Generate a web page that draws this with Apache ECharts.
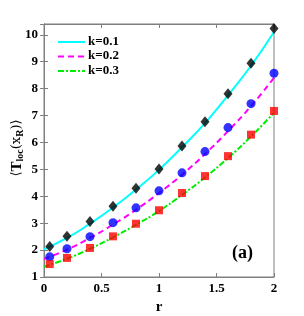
<!DOCTYPE html>
<html><head><meta charset="utf-8">
<script src="https://cdn.jsdelivr.net/npm/echarts@6/dist/echarts.min.js"></script>
<style>html,body{margin:0;padding:0;background:#fff}#c{width:304px;height:316px}</style>
</head><body><div id="c"></div>
<script>
const xTicks = [0, 0.5, 1, 1.5, 2];
const yTicks = [1,2,3,4,5,6,7,8,9,10];
const seriesNames = ['k=0.1', 'k=0.2', 'k=0.3'];
const lineX = [0, 0.2, 0.4, 0.6, 0.8, 1.0, 1.2, 1.4, 1.6, 1.8, 2.0];
const lineK1 = [2.03, 2.45, 2.98, 3.58, 4.25, 4.98, 5.82, 6.72, 7.75, 8.85, 10.1];
const lineK2 = [1.67, 2.02, 2.45, 2.95, 3.50, 4.12, 4.80, 5.57, 6.42, 7.35, 8.40];
const lineK3 = [1.38, 1.68, 2.05, 2.47, 2.94, 3.45, 4.05, 4.70, 5.42, 6.22, 7.10];
const markX = [0.05, 0.2, 0.4, 0.6, 0.8, 1.0, 1.2, 1.4, 1.6, 1.8, 2.0];
const markK1 = [2.13, 2.51, 3.06, 3.63, 4.30, 5.01, 5.87, 6.77, 7.81, 8.94, 10.23];
const markK2 = [1.75, 2.05, 2.50, 3.02, 3.57, 4.20, 4.87, 5.66, 6.55, 7.44, 8.57];
const markK3 = [1.48, 1.71, 2.08, 2.51, 2.98, 3.48, 4.12, 4.75, 5.49, 6.29, 7.17];

const font = 'Liberation Serif';
const colors = ['#00ffff', '#ff00ff', '#00ee00'];
const dashes = ['solid', [6, 4], [6, 2, 2, 2]];
const pair = (xs, ys) => xs.map((x, i) => [x, ys[i]]);
const axisCommon = {
  axisLine: {show: true, lineStyle: {color: '#7f7f7f', width: 1}},
  axisTick: {show: true, inside: true, length: 4, lineStyle: {color: '#7f7f7f'}},
  splitLine: {show: false}
};
const legendGraphics = [];
seriesNames.forEach((n, i) => {
  legendGraphics.push({type: 'line', shape: {x1: 58, y1: 42 + i * 14.5, x2: 85, y2: 42 + i * 14.5},
    style: {stroke: colors[i], lineWidth: 2, lineDash: dashes[i] === 'solid' ? null : dashes[i]}});
  legendGraphics.push({type: 'text', left: 88, top: 35 + i * 14.5,
    style: {text: n, font: 'bold 13px "Liberation Serif"', fill: '#000'}});
});
const chart = echarts.init(document.getElementById('c'));
chart.setOption({
  animation: false,
  grid: {left: 44, right: 30, top: 24, bottom: 39, show: true, borderColor: '#7f7f7f', borderWidth: 1,
         containLabel: false, outerBoundsMode: 'none'},
  xAxis: [
    Object.assign({type: 'value', min: 0, max: 2, interval: 0.5,
      name: 'r', nameLocation: 'middle', nameGap: 22,
      nameTextStyle: {fontFamily: font, fontSize: 15, fontWeight: 'bold', color: '#000'},
      axisLabel: {fontFamily: font, fontSize: 13, fontWeight: 'bold', color: '#000', margin: 5,
        formatter: v => String(v)}}, axisCommon),
    Object.assign({type: 'value', position: 'top', min: 0, max: 2, interval: 0.5,
      axisLabel: {show: false}}, axisCommon)
  ],
  yAxis: [
    Object.assign({type: 'value', min: 1, max: 10.4, interval: 1,
      axisLabel: {fontFamily: font, fontSize: 13, fontWeight: 'bold', color: '#000', margin: 6,
        showMaxLabel: false, formatter: v => Number.isInteger(v) ? String(v) : ''}}, axisCommon),
    Object.assign({type: 'value', position: 'right', min: 1, max: 10.4, interval: 1,
      axisLabel: {show: false}}, axisCommon)
  ],
  series: [
    {name: seriesNames[0], type: 'line', smooth: true, symbol: 'none', data: pair(lineX, lineK1),
     lineStyle: {color: colors[0], width: 2, type: dashes[0]}},
    {name: seriesNames[1], type: 'line', smooth: true, symbol: 'none', data: pair(lineX, lineK2),
     lineStyle: {color: colors[1], width: 2, type: dashes[1]}},
    {name: seriesNames[2], type: 'line', smooth: true, symbol: 'none', data: pair(lineX, lineK3),
     lineStyle: {color: colors[2], width: 2, type: dashes[2]}},
    {type: 'scatter', symbol: 'diamond', symbolSize: [9, 11], data: pair(markX, markK1),
     itemStyle: {color: '#000'}, z: 5},
    {type: 'scatter', symbol: 'circle', symbolSize: 9, data: pair(markX, markK2),
     itemStyle: {color: '#0000ff'}, z: 5},
    {type: 'scatter', symbol: 'rect', symbolSize: 8, data: pair(markX, markK3),
     itemStyle: {color: '#ff0000'}, z: 5}
  ],
  graphic: legendGraphics.concat([
    {type: 'text', left: 232, top: 244,
     style: {text: '(a)', font: 'bold 18px "Liberation Serif"', fill: '#000'}},
    {type: 'text', x: 17, y: 148, rotation: Math.PI / 2,
     style: {text: '{b|⟨}{a|T}{s|loc}{b|(x}{s|R}{b|)⟩}', align: 'center', verticalAlign: 'middle',
       rich: {
         a: {fontFamily: font, fontSize: 15, fontWeight: 'bold', fill: '#000'},
         b: {fontFamily: 'DejaVu Serif', fontSize: 13, fill: '#000'},
         s: {fontFamily: font, fontSize: 10, fontWeight: 'bold', fill: '#000', verticalAlign: 'bottom', padding: [7,0,0,0]}
       }}}
  ])
});
</script></body></html>
